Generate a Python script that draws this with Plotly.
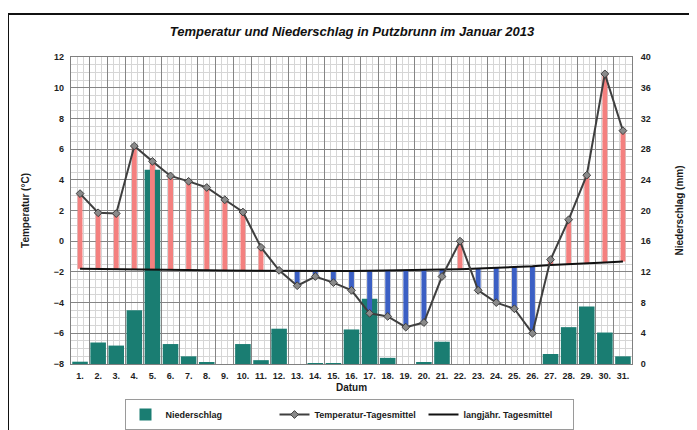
import plotly.graph_objects as go

days = list(range(1, 32))
day_labels = [f"{d}." for d in days]
temp_mean = [3.1, 1.85, 1.8, 6.2, 5.2, 4.25, 3.9, 3.5, 2.7, 1.9, -0.4, -1.9, -2.9, -2.3, -2.7, -3.2,
             -4.7, -4.9, -5.6, -5.3, -2.3, 0.0, -3.2, -4.0, -4.4, -6.0, -1.2, 1.4, 4.3, 10.9, 7.2]
longterm_mean = [-1.80, -1.82, -1.84, -1.86, -1.87, -1.88, -1.89, -1.90, -1.91, -1.92, -1.93, -1.94,
                 -1.95, -1.95, -1.95, -1.94, -1.93, -1.92, -1.90, -1.88, -1.85, -1.82, -1.78, -1.74,
                 -1.70, -1.64, -1.55, -1.48, -1.43, -1.38, -1.33]
precip = [0.3, 2.8, 2.4, 7.0, 25.3, 2.6, 1.0, 0.2, 0.0, 2.6, 0.5, 4.6, 0.0, 0.1, 0.1, 4.5,
          8.5, 0.8, 0.0, 0.2, 2.9, 0.0, 0.0, 0.0, 0.0, 0.0, 1.3, 4.8, 7.5, 4.1, 1.0]

TEAL = "#1a7d72"
RED = "#f4807f"
BLUE = "#3b5fc4"
FONT = "Liberation Sans"

# page offset of the figure (browser default body margin)
OFF = 8
ML, MT, PW, PH = 71 - OFF, 57 - OFF, 561, 307
W, H = 697, 430

diff = [t - l for t, l in zip(temp_mean, longterm_mean)]
diff_colors = [RED if d >= 0 else BLUE for d in diff]

fig = go.Figure()

# grid helper trace (invisible) on the overlay x-axis
fig.add_trace(go.Scatter(x=[0.5, 31.5], y=[0, 0], xaxis="x2", yaxis="y", mode="lines",
                         line=dict(width=0), hoverinfo="skip", showlegend=False))

fig.add_trace(go.Bar(x=days, y=precip, name="Niederschlag", marker=dict(color=TEAL, line=dict(width=0)),
                     width=0.86, xaxis="x", yaxis="y", legendrank=1))

fig.add_trace(go.Bar(x=days, y=diff, base=longterm_mean, marker=dict(color=diff_colors, line=dict(width=0)),
                     width=0.27, xaxis="x", yaxis="y2", showlegend=False))

fig.add_trace(go.Scatter(x=days, y=longterm_mean, name="langjähr. Tagesmittel", mode="lines",
                         line=dict(color="#111111", width=2), xaxis="x", yaxis="y2", legendrank=3))

fig.add_trace(go.Scatter(x=days, y=temp_mean, name="Temperatur-Tagesmittel", mode="lines+markers",
                         line=dict(color="#3f3f3f", width=2),
                         marker=dict(symbol="diamond", size=6, color="#8a8a8a", line=dict(color="#3f3f3f", width=1)),
                         xaxis="x", yaxis="y2", legendrank=2))

tick_font = dict(family=FONT, size=9, color="#1e1e1e", weight="bold")
title_font = dict(family=FONT, size=10, color="#1a1a1a", weight="bold")

pb = MT + PH  # plot bottom in figure px

fig.update_layout(
    width=W, height=H,
    paper_bgcolor="white", plot_bgcolor="white",
    margin=dict(l=ML, r=W - ML - PW, t=MT, b=H - MT - PH, autoexpand=False),
    barmode="overlay",
    title=dict(text="<i>Temperatur und Niederschlag in Putzbrunn im Januar 2013</i>",
               x=(352 - OFF) / W, xanchor="center", y=1 - (31 - OFF) / H, yanchor="middle", yref="container",
               font=dict(family=FONT, size=13, color="#111111", weight="bold")),
    xaxis=dict(range=[0.5, 31.5], tickmode="array", tickvals=days, ticktext=day_labels,
               showgrid=False, zeroline=False, ticks="", tickfont=tick_font, automargin=False,
               ticklabelstandoff=3,
               title=dict(text="Datum", font=title_font, standoff=4),
               showline=True, linecolor="#808080", mirror=True, anchor="y"),
    xaxis2=dict(range=[0.5, 31.5], overlaying="x", anchor="y", tickmode="linear", tick0=0.5, dtick=1,
                showgrid=True, gridcolor="#858585", gridwidth=1.3, showticklabels=False, ticks="",
                zeroline=False, automargin=False,
                minor=dict(tick0=0.5, dtick=1 / 3, showgrid=True, gridcolor="#d6d6d6", gridwidth=1)),
    yaxis=dict(range=[0, 40], side="right", tickmode="linear", tick0=0, dtick=4,
               showgrid=True, gridcolor="#858585", gridwidth=1.3, zeroline=False,
               minor=dict(dtick=1, showgrid=True, gridcolor="#d6d6d6", gridwidth=1),
               tickfont=tick_font, ticks="", automargin=False, ticklabelstandoff=6,
               title=dict(text="Niederschlag (mm)", font=title_font, standoff=26),
               showline=True, linecolor="#808080", mirror=True),
    yaxis2=dict(range=[-8, 12], overlaying="y", side="left", tickmode="linear", tick0=-8, dtick=2,
                showgrid=False, zeroline=False, tickfont=tick_font, ticks="", automargin=False,
                ticklabelstandoff=6,
                title=dict(text="Temperatur (°C)", font=title_font, standoff=22)),
    legend=dict(orientation="h", xref="container", yref="container",
                x=(349 - OFF) / W, xanchor="center", y=1 - (399 - OFF) / H, yanchor="top",
                font=dict(family=FONT, size=9, color="#1a1a1a", weight="bold"),
                bordercolor="#9a9a9a", borderwidth=1, bgcolor="white",
                traceorder="normal", tracegroupgap=0, entrywidth=104),
    shapes=[dict(type="rect", xref="paper", yref="paper",
                 x0=(8 - OFF - ML) / PW, x1=(695 - OFF - ML) / PW,
                 y0=(pb - (440 - OFF)) / PH, y1=(pb - (14 - OFF)) / PH,
                 line=dict(color="#111111", width=2), fillcolor="rgba(0,0,0,0)", layer="below")],
)

fig.write_html("out.html")
